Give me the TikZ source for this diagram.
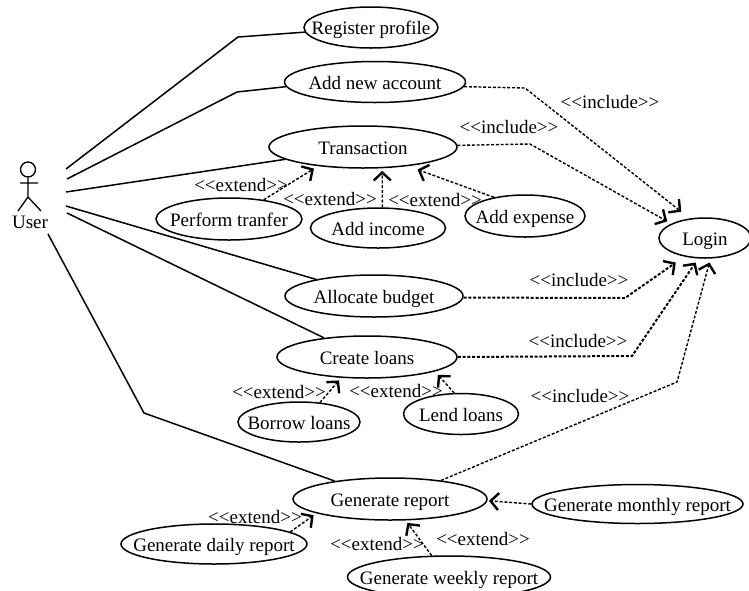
\documentclass[tikz,border=0pt]{standalone}
\usepackage{fontspec}
\setmainfont{Liberation Serif}[Ligatures=NoCommon]
\usetikzlibrary{shapes.geometric,arrows.meta}
\tikzset{
  usecase/.style={draw,ellipse,line width=1.5pt,inner sep=0pt,font=\fontsize{19}{22}\selectfont},
  lbl/.style={inner sep=0pt,font=\fontsize{19}{22}\selectfont},
  assoc/.style={line width=1.5pt,line join=round},
  dep/.style={line width=1.4pt,dash pattern=on 3pt off 1.8pt,line join=round,
    -{Straight Barb[length=8pt,width=17pt,line width=2.4pt]}},
  depthick/.style={dep,line width=2pt},
  figure/.style={line width=1.3pt}
}
\newcommand{\uc}[6]{\node[usecase,minimum width=#4pt,minimum height=#5pt] (#1) at (#2,#3) {\makebox[0pt]{\raisebox{-.37em}[0pt][0pt]{#6}}};}
\newcommand{\ang}[1]{{<}{<}#1{>}{>}}
\begin{document}
\begin{tikzpicture}[x=1pt,y=-1pt]
\useasboundingbox (0,0) rectangle (749,590);
\uc{reg}{371}{27.5}{134}{41}{Register profile}
\uc{acc}{375}{82}{181}{41}{Add new account}
\uc{tra}{363}{147}{188}{42}{Transaction}
\uc{per}{229}{219}{146}{42}{Perform tranfer}
\uc{inc}{378}{228}{135}{40}{Add income}
\uc{exp}{525}{216}{120}{42}{Add expense}
\uc{log}{705}{238}{92}{40}{Login}
\uc{all}{374}{296}{178}{42}{Allocate budget}
\uc{cre}{367}{357}{180}{42}{Create loans}
\uc{bor}{299}{422}{122}{40}{Borrow loans}
\uc{len}{461}{414}{115}{41}{Lend loans}
\uc{gen}{390}{499}{194}{42}{Generate report}
\uc{mon}{637.5}{504}{211}{39}{Generate monthly report}
\uc{dai}{214}{544}{186}{40}{Generate daily report}
\uc{wee}{449}{577}{203}{42}{Generate weekly report}
% actor
\draw[figure] (28,169.5) circle (7.5);
\draw[figure] (28,177) -- (28,197) (20,183) -- (38,183) (18,211) -- (28,197) -- (41,211);
\node[lbl] (user) at (30,222) {User};
% free ends at the actor
\coordinate (a1) at (66,169); \coordinate (a2) at (67,179); \coordinate (a3) at (66,192);
\coordinate (a4) at (66,206); \coordinate (a5) at (67,213); \coordinate (a6) at (48,234);
\coordinate (b1) at (238,37); \coordinate (b2) at (237,92); \coordinate (b6) at (144,413);
\draw[assoc] (a1) -- (b1) -- (reg.184.7);
\draw[assoc] (a2) -- (b2) -- (acc.183.9);
\draw[assoc] (a3) -- (tra.189);
\draw[assoc] (a4) -- (all.164.9);
\draw[assoc] (a5) -- (cre.156.6);
\draw[assoc] (a6) -- (b6) -- (gen.162.8);
% include
\coordinate (c1) at (525,88); \coordinate (c2) at (530,144); \coordinate (c3) at (625,298);
\coordinate (c4) at (632,356); \coordinate (c5) at (677,382);
\draw[dep,shorten >=10.8pt] (acc.-3.2) -- (c1) -- (log.128.3);
\draw[dep,shorten >=4.6pt] (tra.1.8) -- (c2) -- (log.157.5);
\draw[depthick,shorten >=10.4pt] (all.-1.3) -- (c3) -- (log.222.7);
\draw[depthick,shorten >=4.8pt] (cre.0) -- (c4) -- (log.252.5);
\draw[dep,shorten >=4pt] (gen.20) -- (c5) -- (log.285.4);
% extend
\draw[dep,shorten >=4.7pt] (per.29.2) -- (tra.203.4);
\draw[dep,shorten >=2.5pt] (inc.78.7) -- (tra.312.7);
\draw[dep,shorten >=10.1pt] (exp.149.3) -- (tra.337);
\draw[dep,shorten >=3.4pt] (bor.43.6) -- (cre.219.5);
\draw[dep,shorten >=4.5pt] (len.108.4) -- (cre.348.3);
\draw[dep,shorten >=3.3pt] (dai.9.7) -- (gen.191.6);
\draw[dep,shorten >=3pt] (wee.129.3) -- (gen.306.6);
\draw[dep,shorten >=1.5pt] (mon.180) -- (gen.359);
% labels
\node[lbl] (i1) at (610,102) {\ang{include}};
\node[lbl] (i2) at (509,127) {\ang{include}};
\node[lbl] (i3) at (579,280) {\ang{include}};
\node[lbl] (i4) at (578,341) {\ang{include}};
\node[lbl] (i5) at (580,396) {\ang{include}};
\node[lbl] (e1) at (241,185) {\ang{extend}};
\node[lbl] (e2) at (330,199) {\ang{extend}};
\node[lbl] (e3) at (435,200) {\ang{extend}};
\node[lbl] (e4) at (279,392) {\ang{extend}};
\node[lbl] (e5) at (396,391) {\ang{extend}};
\node[lbl] (e6) at (255,517) {\ang{extend}};
\node[lbl] (e7) at (377,544) {\ang{extend}};
\node[lbl] (e8) at (483,539) {\ang{extend}};
\end{tikzpicture}
\end{document}
